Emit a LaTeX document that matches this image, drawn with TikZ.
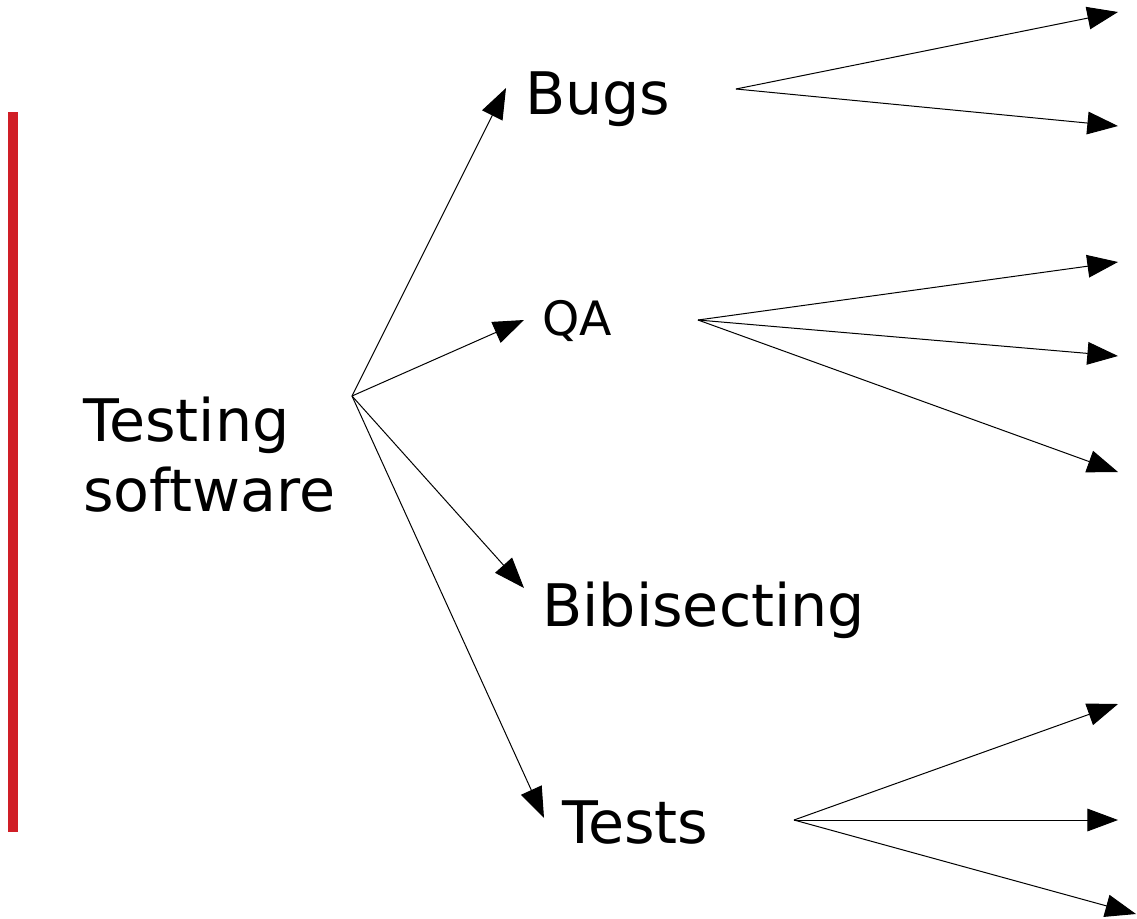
\documentclass[tikz,border=0pt]{standalone}
\usepackage{fontspec}
\setmainfont{DejaVu Sans}
\usetikzlibrary{arrows.meta}
\definecolor{barred}{RGB}{208,30,38}

\begin{document}
\begin{tikzpicture}[x=0.75pt,y=-0.75pt,
    topic/.style={anchor=base west,inner sep=0pt,font=\fontsize{44}{52}\selectfont},
    arr/.style={line width=0.75pt,-{Triangle[length=23pt,width=17pt]}}]
    \useasboundingbox (0,0) rectangle (1137,918);
    % red bar on the left
    \fill[barred] (8,112) rectangle (18,832);
    % topics
    \node[topic,align=left] (testing) at (83,511) {Testing\\software};
    \node[topic] (bugs) at (525,114) {Bugs};
    \node[topic,font=\fontsize{35.5}{42}\selectfont] (qa) at (542,335) {QA};
    \node[topic] (bibisecting) at (542,626) {Bibisecting};
    \node[topic] (tests) at (562,843) {Tests};
    \coordinate (hub)      at (352,396);
    \coordinate (bugs-in)  at (506,88);
    \coordinate (qa-in)    at (524,320);
    \coordinate (bibi-in)  at (524,588);
    \coordinate (tests-in) at (544,818);
    \coordinate (bugs-out)  at (736,89);
    \coordinate (qa-out)    at (698,320);
    \coordinate (tests-out) at (794,820);
    \foreach \to in {bugs-in,qa-in,bibi-in,tests-in}{
      \draw[arr] (hub) -- (\to);
    }
    % fan-outs to the right
    \foreach \n/\x/\y in {1/1118/12,2/1118/126}{
      \coordinate (bugs-\n) at (\x,\y);
      \draw[arr] (bugs-out) -- (bugs-\n);
    }
    \foreach \n/\x/\y in {1/1118/262,2/1118/356,3/1118/472}{
      \coordinate (qa-\n) at (\x,\y);
      \draw[arr] (qa-out) -- (qa-\n);
    }
    \foreach \n/\x/\y in {1/1118/704,2/1118/820,3/1136/914}{
      \coordinate (tests-\n) at (\x,\y);
      \draw[arr] (tests-out) -- (tests-\n);
    }
\end{tikzpicture}
\end{document}
